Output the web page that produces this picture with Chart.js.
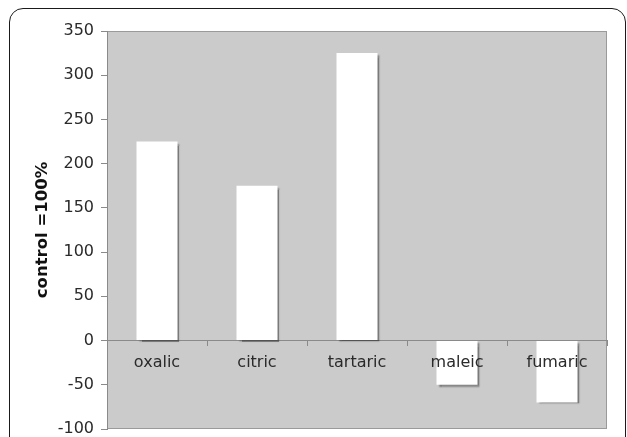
<!DOCTYPE html>
<html>
<head>
<meta charset="utf-8">
<script src="https://cdn.jsdelivr.net/npm/chart.js@4"></script>
<style>
  html, body { margin: 0; padding: 0; background: #fff; }
  #wrap { position: relative; width: 627px; height: 437px; overflow: hidden; }
  #frame {
    position: absolute; left: 9px; top: 8px; width: 617px; height: 470px;
    border: 1.5px solid #1a1a1a; border-radius: 14px; box-sizing: border-box;
    pointer-events: none;
  }
  canvas { position: absolute; left: 0; top: 0; }
</style>
</head>
<body>
<div id="wrap">
  <canvas id="c" width="627" height="437"></canvas>
  <div id="frame"></div>
</div>
<script>
// Organic acids, response relative to control (control = 100%)
const acids = ['oxalic', 'citric', 'tartaric', 'maleic', 'fumaric'];
const response = [225, 175, 325, -50, -70];
const yTicks = [350, 300, 250, 200, 150, 100, 50, 0, -50, -100];

const FONT = "'DejaVu Sans', Verdana, sans-serif";

// Grey plot panel with a thin border
const panel = {
  id: 'panel',
  beforeDraw(chart) {
    const { ctx, chartArea: a } = chart;
    ctx.save();
    ctx.fillStyle = '#cbcbcb';
    ctx.fillRect(a.left, a.top, a.right - a.left, a.bottom - a.top);
    ctx.strokeStyle = '#9a9a9a';
    ctx.lineWidth = 1;
    ctx.strokeRect(a.left + 0.5, a.top + 0.5, a.right - a.left - 1, a.bottom - a.top - 1);
    ctx.restore();
  }
};

// Soft drop shadow under the bars
const barShadow = {
  id: 'barShadow',
  beforeDatasetsDraw(chart) {
    const ctx = chart.ctx;
    ctx.save();
    ctx.shadowColor = 'rgba(0,0,0,0.4)';
    ctx.shadowOffsetX = 2;
    ctx.shadowOffsetY = 2;
    ctx.shadowBlur = 1.5;
  },
  afterDatasetsDraw(chart) {
    chart.ctx.restore();
  }
};

new Chart(document.getElementById('c'), {
  type: 'bar',
  data: {
    labels: acids,
    datasets: [{
      data: response,
      backgroundColor: '#ffffff',
      borderWidth: 0,
      barPercentage: 0.41,
      categoryPercentage: 1.0
    }]
  },
  options: {
    responsive: false,
    animation: false,
    devicePixelRatio: 1,
    layout: { padding: { top: 31, right: 20, bottom: 8, left: 0 } },
    plugins: { legend: { display: false }, tooltip: { enabled: false } },
    scales: {
      x: {
        position: { y: 0 },
        grid: {
          display: true, drawOnChartArea: false, drawTicks: true,
          tickLength: 5, color: '#8a8a8a', offset: true
        },
        border: { display: true, color: '#8a8a8a', width: 1 },
        // labels sit on top of the bars
        ticks: { z: 1, color: '#2a2a2a', font: { family: FONT, size: 16 }, padding: 8, maxRotation: 0 }
      },
      y: {
        min: -100, max: 350,
        afterBuildTicks(scale) { scale.ticks = yTicks.map(v => ({ value: v })); },
        afterFit(scale) {
          scale.width = 107;
          scale.paddingTop = 0;
          scale.paddingBottom = 0;
        },
        grid: { display: true, drawOnChartArea: false, drawTicks: true, tickLength: 6, color: '#8a8a8a' },
        border: { display: true, color: '#8a8a8a', width: 1 },
        ticks: { color: '#2a2a2a', font: { family: FONT, size: 16 }, padding: 7 },
        title: {
          display: true, text: 'control =100%', color: '#111',
          font: { family: FONT, size: 16.5, weight: 'bold' },
          padding: { top: 33, bottom: 0 }
        }
      }
    }
  },
  plugins: [panel, barShadow]
});
</script>
</body>
</html>
